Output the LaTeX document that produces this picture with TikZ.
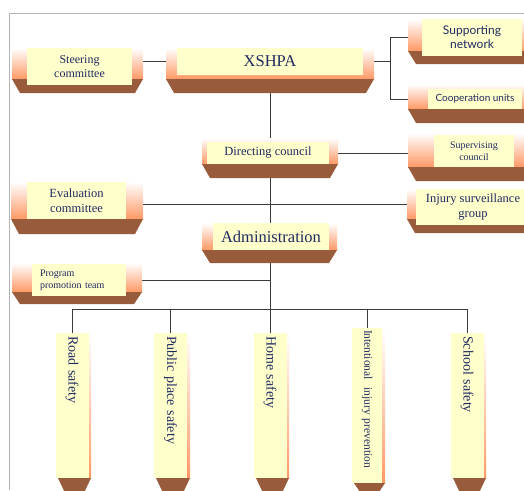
\documentclass[tikz,border=0pt]{standalone}
\usepackage{fontspec}
\setmainfont{Liberation Serif}
\newfontfamily\gillfont{Lato}
\usetikzlibrary{positioning,backgrounds}

\definecolor{paneyellow}{HTML}{FFFFCC}
\definecolor{plateorange}{HTML}{FF9966}
\definecolor{platebrown}{HTML}{985B3C}
\definecolor{inkblue}{HTML}{1F2A60}
\definecolor{wirecol}{HTML}{3A3A3A}
\definecolor{framegray}{HTML}{B4B4B4}

% back plate: left, top, right, band top, bottom
\newcommand{\plate}[5]{%
  \shade[top color=white, bottom color=plateorange] (#1,#2) rectangle (#3,#4);
  \fill[platebrown] (#1,#4) -- (#3,#4) -- ({#3-8},#5) -- ({#1+8},#5) -- cycle;
}

\begin{document}
\begin{tikzpicture}[
        x=1pt, y=-1pt,
        panel/.style={fill=paneyellow, text=inkblue, inner sep=1pt, align=center},
        vpanel/.style={panel, rotate=-90, minimum width=145, minimum height=33,
                       text width=139, align=left, font=\fontsize{14}{16}\selectfont},
        wire/.style={draw=wirecol, line width=0.9pt}
      ]
        \useasboundingbox (0,0) rectangle (524,490);
        \clip (0,0) rectangle (524,490);

        % Frame
        \draw[framegray, line width=0.8pt] (9,490) -- (9,13) -- (524,13);

        % Back plates
        \plate{12}{48}{143}{79}{93}
        \plate{166}{48}{374}{79}{93}
        \plate{408}{19}{540}{51}{64}
        \plate{408}{84}{540}{109}{123}
        \plate{202}{138}{338}{164}{178}
        \plate{408}{133}{540}{167}{181}
        \plate{11}{182}{143}{219}{234}
        \plate{407}{189}{540}{219}{233}
        \plate{202}{223}{337}{250}{263}
        \plate{12}{263}{142}{292}{304}
        \plate{58}{333}{91}{478}{495}
        \plate{156}{333}{190}{478}{495}
        \plate{256}{333}{289}{478}{495}
        \plate{354}{328}{385}{483}{495}
        \plate{453}{333}{486}{478}{495}

        % Top level
        \node [panel, minimum width=105, minimum height=37, font=\fontsize{12}{14}\selectfont] (steer) at (79.5,66.5) {Steering\\committee};
        \node [panel, minimum width=186, minimum height=27, font=\fontsize{16.5}{19}\selectfont] (xshpa) at (270,61.5) {XSHPA};
        \node [panel, minimum width=100, minimum height=37, font=\gillfont\fontsize{12}{14}\selectfont] (support) at (472,37.5) {Supporting\\network};
        \node [panel, minimum width=94, minimum height=20, font=\gillfont\fontsize{10}{12}\selectfont] (coop) at (475,99) {Cooperation units};

        % Middle level
        \node [panel, minimum width=122, minimum height=22, font=\fontsize{12.5}{15}\selectfont] (direct) at (268,153) {Directing council};
        \node [panel, minimum width=80, minimum height=32, font=\fontsize{10}{12}\selectfont] (superv) at (474,151) {Supervising\\council};
        \node [panel, minimum width=99, minimum height=37, font=\fontsize{12.5}{15}\selectfont] (eval) at (76.5,200.5) {Evaluation\\committee};
        \node [panel, minimum width=114, minimum height=36, font=\fontsize{12.5}{15}\selectfont] (injury) at (473,207) {Injury surveillance\\group};
        \node [panel, minimum width=116, minimum height=27, font=\fontsize{16.5}{19}\selectfont] (admin) at (271,236.5) {Administration};
        \node [panel, minimum width=94, minimum height=32, text width=78, align=left, font=\fontsize{10}{12}\selectfont] (program) at (79,280) {Program\\promotion team};

        % Safety areas
        \node [vpanel] (road) at (72,405.5) {Road safety};
        \node [vpanel] (public) at (170.5,405.5) {Public place safety};
        \node [vpanel] (home) at (270,405.5) {Home safety};
        \node [vpanel, minimum width=155, minimum height=30, text width=151, font=\fontsize{11.5}{13}\selectfont] (intent) at (367,405.5) {\mbox{Intentional\ \ injury prevention}};
        \node [vpanel] (school) at (467,405.5) {School safety};

        % Lines
        \begin{pgfonlayer}{background}
          \draw [wire] (xshpa.south) -- (home.west);
          \draw [wire] (steer.east |- xshpa.west) -- (xshpa.west);
          \draw [wire] (xshpa.east) -- ++(27,0) coordinate (fork);
          \draw [wire] (support.west) -| (fork) |- (coop.west);
          \draw [wire] (direct.east) -- (direct.east -| superv.west);
          \draw [wire] ([yshift=-3.5pt]eval.east) -- ([yshift=-3.5pt]eval.east -| injury.west);
          \draw [wire] (program.east) -- (program.east -| xshpa.south);
          \coordinate (bus) at (270,309);
          \draw [wire] (road.west) |- (bus) -| (school.west);
          \draw [wire] (public.west) |- (bus);
          \draw [wire] (intent.west) |- (bus);
        \end{pgfonlayer}
      \end{tikzpicture}
\end{document}
